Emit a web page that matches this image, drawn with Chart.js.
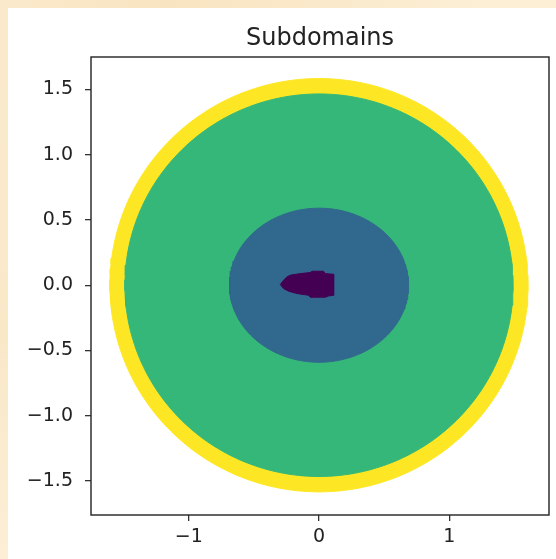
<!DOCTYPE html>
<html><head><meta charset="utf-8">
<script src="https://cdn.jsdelivr.net/npm/chart.js@4.4.0/dist/chart.umd.min.js"></script>
<style>
html,body{margin:0;padding:0;width:556px;height:559px;overflow:hidden;
background:#fcefd6;
background-image:radial-gradient(ellipse at 30% 0%, #f8e4c0 0%, rgba(248,228,192,0) 60%),
radial-gradient(ellipse at 0% 60%, #f9e8c9 0%, rgba(249,232,201,0) 50%);}
#wrap{position:absolute;left:8px;top:8px;width:548px;height:551px;background:#fff;}
canvas{display:block}
</style></head><body>
<div id="wrap"><canvas id="c" width="548" height="551"></canvas></div>
<script>
// ---- data ----
const chartTitle = 'Subdomains';
const regionNames = ['outer ring', 'far field', 'near field', 'airfoil'];
const regionColors = ['#fde725', '#35b779', '#31688e', '#440154'];
// elliptical subdomain boundaries (semi-axes in data units, centred at 0,0)
const regionRx = [1.605, 1.49, 0.688];
const regionRy = [1.583, 1.465, 0.59];
// airfoil outline (dark subdomain)
const airfoilX = [-0.297, -0.272, -0.246, -0.220, -0.144, -0.067, -0.054, 0.035, 0.048, 0.112,
                  0.112, 0.074, 0.048, -0.067, -0.080, -0.169, -0.233, -0.272, -0.297];
const airfoilY = [0.005, 0.038, 0.064, 0.077, 0.089, 0.097, 0.107, 0.107, 0.089, 0.084,
                  -0.077, -0.082, -0.092, -0.092, -0.077, -0.064, -0.046, -0.026, 0.005];
const xTicks = [-1, 0, 1];
const yTicks = [-1.5, -1.0, -0.5, 0.0, 0.5, 1.0, 1.5];
const xRange = [-1.75, 1.765];
const yRange = [-1.76, 1.748];

// ---- build datasets ----
function ellipsePoints(rx, ry) {
  const pts = [];
  const n = 240;
  for (let i = 0; i <= n; i++) {
    const t = 2 * Math.PI * i / n;
    pts.push({x: rx * Math.cos(t), y: ry * Math.sin(t)});
  }
  return pts;
}
const datasets = [];
regionRx.forEach((rx, i) => {
  datasets.push({
    label: regionNames[i],
    data: ellipsePoints(rx, regionRy[i]),
    backgroundColor: regionColors[i],
    borderColor: regionColors[i],
    borderWidth: 1,
    pointRadius: 0,
    tension: 0,
    fill: 'shape',
    order: 10 - i
  });
});
datasets.push({
  label: regionNames[3],
  data: airfoilX.map((x, k) => ({x: x, y: airfoilY[k]})),
  backgroundColor: regionColors[3],
  borderColor: regionColors[3],
  borderWidth: 1,
  pointRadius: 0,
  tension: 0,
  fill: 'shape',
  order: 1
});

const minus = s => s.replace('-', '\u2212');
const frame = {
  id: 'frame',
  afterDraw(chart) {
    const {ctx, chartArea: a} = chart;
    ctx.save();
    ctx.strokeStyle = '#222';
    ctx.lineWidth = 1.4;
    ctx.strokeRect(a.left, a.top, a.right - a.left, a.bottom - a.top);
    ctx.restore();
  }
};

new Chart(document.getElementById('c'), {
  type: 'line',
  data: {datasets: datasets},
  plugins: [frame],
  options: {
    responsive: false,
    animation: false,
    events: [],
    layout: {padding: {left: 0, right: 7, top: 0, bottom: 0}},
    plugins: {
      legend: {display: false},
      tooltip: {enabled: false},
      title: {
        display: true,
        fullSize: false,
        text: chartTitle,
        color: '#222',
        font: {family: 'DejaVu Sans', size: 24, weight: 'normal', lineHeight: 1.2},
        padding: {top: 16.6, bottom: 3.6}
      }
    },
    scales: {
      x: {
        type: 'linear',
        min: xRange[0], max: xRange[1],
        afterBuildTicks: ax => { ax.ticks = xTicks.map(v => ({value: v})); },
        afterFit: ax => { ax.height = 44; },
        border: {display: false},
        grid: {drawOnChartArea: false, drawTicks: true, tickLength: 6, color: '#333', lineWidth: 1.3},
        ticks: {
          color: '#222', padding: 5,
          font: {family: 'DejaVu Sans', size: 19},
          callback: v => minus(String(v))
        }
      },
      y: {
        type: 'linear',
        min: yRange[0], max: yRange[1],
        afterBuildTicks: ax => { ax.ticks = yTicks.map(v => ({value: v})); },
        afterFit: ax => { ax.width = 83; },
        border: {display: false},
        grid: {drawOnChartArea: false, drawTicks: true, tickLength: 6, color: '#333', lineWidth: 1.3},
        ticks: {
          color: '#222', padding: 12,
          font: {family: 'DejaVu Sans', size: 19},
          callback: v => minus(Number(v).toFixed(1))
        }
      }
    }
  }
});
</script>
</body></html>
